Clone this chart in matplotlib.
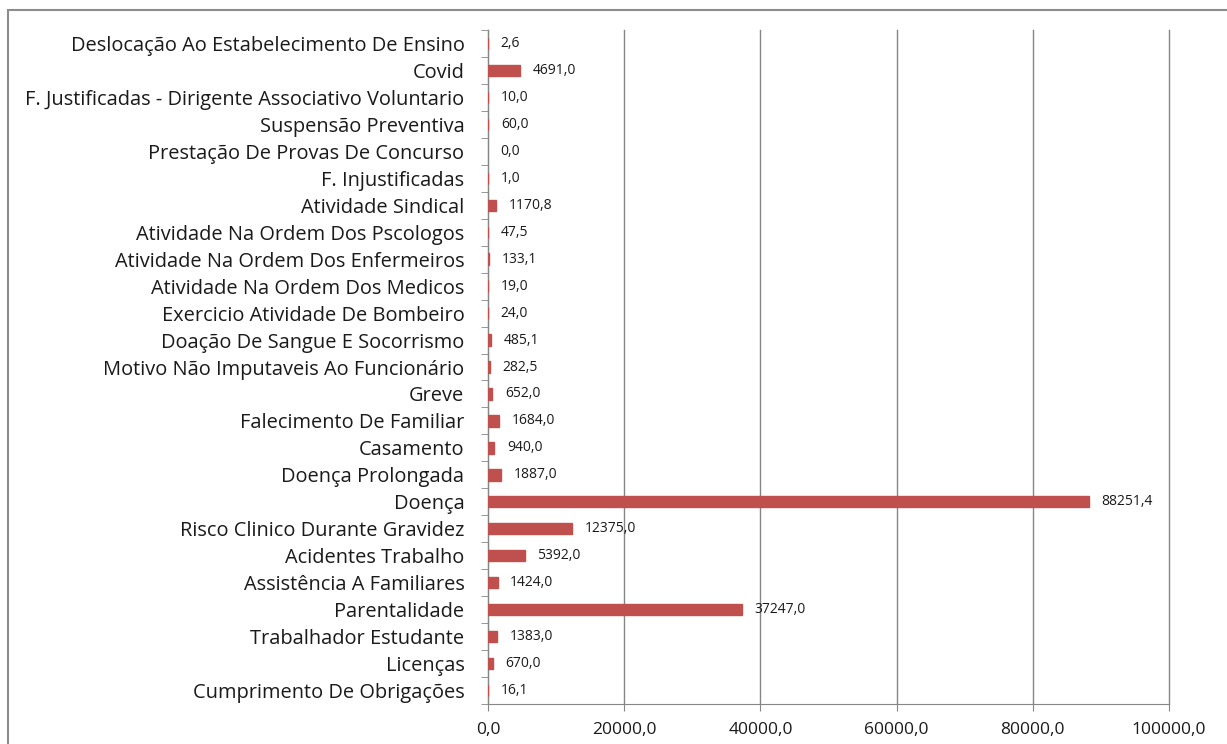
import matplotlib.pyplot as plt
from matplotlib.patches import Rectangle
import numpy as np

categories = [
    "Deslocação Ao Estabelecimento De Ensino",
    "Covid",
    "F. Justificadas - Dirigente Associativo Voluntario",
    "Suspensão Preventiva",
    "Prestação De Provas De Concurso",
    "F. Injustificadas",
    "Atividade Sindical",
    "Atividade Na Ordem Dos Pscologos",
    "Atividade Na Ordem Dos Enfermeiros",
    "Atividade Na Ordem Dos Medicos",
    "Exercicio Atividade De Bombeiro",
    "Doação De Sangue E Socorrismo",
    "Motivo Não Imputaveis Ao Funcionário",
    "Greve",
    "Falecimento De Familiar",
    "Casamento",
    "Doença Prolongada",
    "Doença",
    "Risco Clinico Durante Gravidez",
    "Acidentes Trabalho",
    "Assistência A Familiares",
    "Parentalidade",
    "Trabalhador Estudante",
    "Licenças",
    "Cumprimento De Obrigações",
]
values = [2.6, 4691.0, 10.0, 60.0, 0.0, 1.0, 1170.8, 47.5, 133.1, 19.0, 24.0,
          485.1, 282.5, 652.0, 1684.0, 940.0, 1887.0, 88251.4, 12375.0, 5392.0,
          1424.0, 37247.0, 1383.0, 670.0, 16.1]
xticks = [0, 20000, 40000, 60000, 80000, 100000]

def fmt(v):
    return ("%.1f" % v).replace(".", ",")

plt.rcParams['font.family'] = ['Open Sans', 'DejaVu Sans']
fig = plt.figure(figsize=(12.27, 7.44), dpi=100)
ax = fig.add_axes([488 / 1227, 1 - 704 / 744, (1169 - 488) / 1227, (704 - 30) / 744])

n = len(categories)
y = np.arange(n)[::-1]
# thin edge so tiny (non-zero) values still show as a sliver, like the original
lw = [1.0 if v > 0 else 0 for v in values]
ax.barh(y, values, height=0.42, color='#C0504D', edgecolor='#C0504D',
        linewidth=lw, zorder=3)
for yi, v in zip(y, values):
    ax.annotate(fmt(v), (v, yi), xytext=(9, 0), textcoords='offset points',
                va='center', ha='left', fontsize=10, color='#1a1a1a')

ax.set_xlim(0, 100000)
ax.set_ylim(-0.5, n - 0.5)
ax.set_xticks(xticks)
ax.set_xticklabels([fmt(t) for t in xticks], fontsize=12.5, color='#1a1a1a')
ax.set_yticks(y)
ax.set_yticklabels(categories, fontsize=14.4, color='#1a1a1a')
ax.set_yticks(np.arange(n + 1) - 0.5, minor=True)
ax.tick_params(axis='y', which='major', length=0, pad=17)
ax.tick_params(axis='y', which='minor', length=5, color='#868686')
ax.tick_params(axis='x', length=5, color='#868686', pad=8)
ax.grid(axis='x', color='#868686', linewidth=1, zorder=0)
for gl in ax.get_xgridlines():
    gl.set_clip_on(False)
for s in ['top', 'right']:
    ax.spines[s].set_visible(False)
for s in ['left', 'bottom']:
    ax.spines[s].set_color('#868686')

fig.patches.append(Rectangle((8 / 1227, -0.2), 1.2, 0.2 + 1 - 10 / 744,
                             transform=fig.transFigure, fill=False,
                             edgecolor='#8c8c8c', linewidth=1.5))
fig.savefig('out.png', dpi=100)
